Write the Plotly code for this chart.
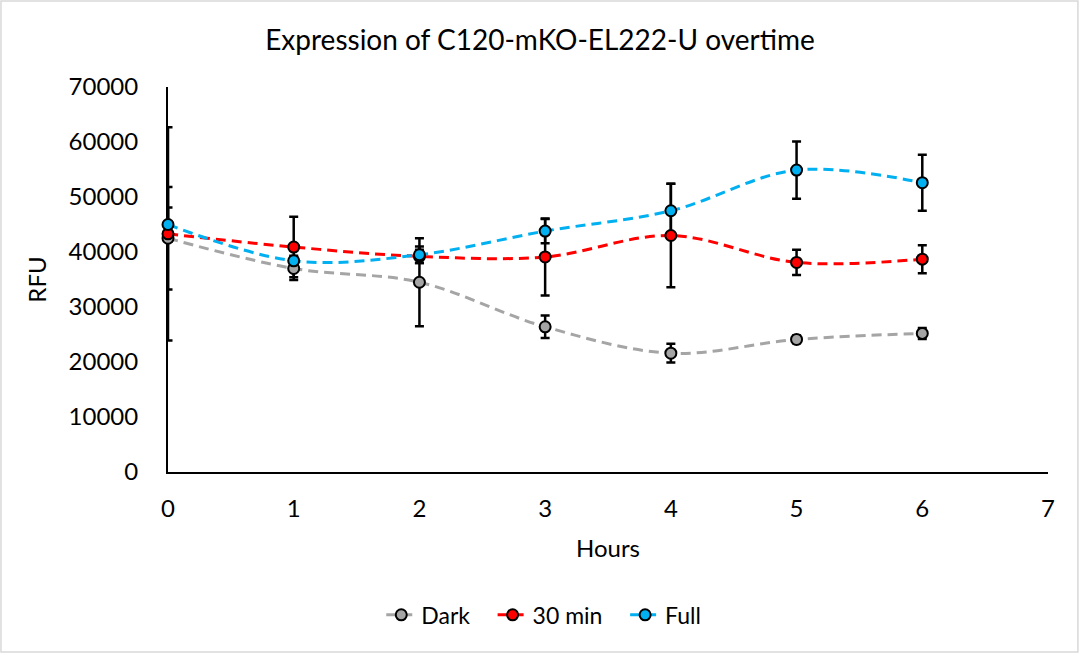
import plotly.graph_objects as go

hours = [0, 1, 2, 3, 4, 5, 6]

dark = [42500, 37000, 34500, 26400, 21600, 24100, 25200]
dark_err = [9300, 2100, 8000, 2050, 1700, 700, 1000]

min30 = [43300, 40900, 39200, 39100, 43000, 38100, 38700]
min30_err = [19400, 5500, 1200, 7000, 9400, 2300, 2550]

full = [45000, 38400, 39500, 43800, 47500, 54900, 52600]
full_err = [3100, 900, 1500, 2200, 4900, 5200, 5100]

series = [
    ("Dark", dark, dark_err, "#A5A5A5", "#A5A5A5"),
    ("30 min", min30, min30_err, "#FF0000", "#FF0000"),
    ("Full", full, full_err, "#00B0F0", "#00B0F0"),
]

FONT = "Lato"
NBSP = "\u00a0"
X_RANGE = [0, 7]
Y_RANGE = [0, 70000]

fig = go.Figure()
# error bars on the main subplot (clipped to the plot area, like the reference)
for name, vals, errs, lc, mc in series:
    fig.add_trace(go.Scatter(
        x=hours, y=vals, mode="markers", showlegend=False, hoverinfo="skip",
        marker=dict(size=1, opacity=0),
        error_y=dict(type="data", array=errs, visible=True, color="black",
                     thickness=2.5, width=4.5),
        cliponaxis=True, xaxis="x", yaxis="y",
    ))
# lines + markers on an identical, invisible subplot drawn above (unclipped markers)
for i, (name, vals, errs, lc, mc) in enumerate(series):
    label = name + (NBSP * 3 if i < len(series) - 1 else "")
    fig.add_trace(go.Scatter(
        x=hours, y=vals, name=label, mode="lines+markers",
        line=dict(color=lc, width=3, dash="10px,6px", shape="spline", smoothing=1.0),
        marker=dict(size=11, color=mc, line=dict(color="black", width=2)),
        cliponaxis=False, xaxis="x3", yaxis="y3",
    ))

fig.update_layout(
    width=1080, height=654,
    paper_bgcolor="white", plot_bgcolor="rgba(0,0,0,0)",
    margin=dict(l=168, r=32, t=87, b=182),
    font=dict(family=FONT, color="black", size=24),
    title=dict(text="Expression of C120-mKO-EL222-U overtime", x=0.5, xanchor="center",
               y=0.939, yanchor="middle", font=dict(size=28, family=FONT, color="black")),
    showlegend=True,
    legend=dict(orientation="h", x=0.427, xanchor="center", y=-0.371, yanchor="middle",
                font=dict(size=23, family=FONT)),
    shapes=[dict(type="rect", xref="paper", yref="paper", x0=-0.1898, x1=1.034,
                 y0=-0.4675, y1=1.2234, line=dict(color="#D9D9D9", width=1.5),
                 fillcolor="rgba(0,0,0,0)", layer="below")],
    xaxis3=dict(domain=[0, 1], anchor="y3", range=X_RANGE, visible=False,
                showgrid=False, zeroline=False),
    yaxis3=dict(domain=[0, 1], anchor="x3", range=Y_RANGE, visible=False,
                showgrid=False, zeroline=False),
)

fig.update_layout(xaxis=dict(
    range=X_RANGE, dtick=1, tick0=0, showgrid=False, zeroline=False,
    showline=True, linecolor="black", linewidth=2, ticks="",
    tickfont=dict(size=24, family=FONT), ticklabelstandoff=14,
    title=dict(text="Hours", font=dict(size=24, family=FONT), standoff=19),
), yaxis=dict(
    range=Y_RANGE, dtick=10000, tick0=0, showgrid=False, zeroline=False,
    showline=True, linecolor="black", linewidth=2, ticks="", tickformat="d",
    tickfont=dict(size=24, family=FONT), ticklabelstandoff=23,
    title=dict(text="RFU", font=dict(size=24, family=FONT), standoff=15),
))

fig.write_html("out.html", config={"displayModeBar": False},
               post_script="document.body.style.margin='0';")
